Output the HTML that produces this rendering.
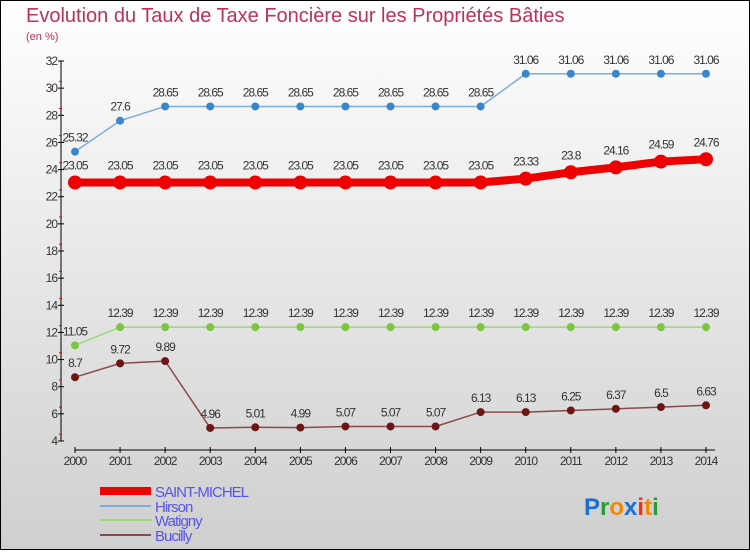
<!DOCTYPE html>
<html><head><meta charset="utf-8"><style>
body{margin:0;width:750px;height:550px;overflow:hidden;font-family:"Liberation Sans",sans-serif}
</style></head><body>
<svg width="750" height="550" xmlns="http://www.w3.org/2000/svg">
<defs><linearGradient id="bg" x1="0" y1="0" x2="0" y2="1"><stop offset="0" stop-color="#ffffff"/><stop offset="1" stop-color="#cfcfcf"/></linearGradient></defs>
<rect x="0.5" y="0.5" width="749" height="549" fill="url(#bg)" stroke="#000"/>
<text x="26" y="22" font-size="20" fill="#c0305a">Evolution du Taux de Taxe Foncière sur les Propriétés Bâties</text>
<text x="26" y="40" font-size="11" fill="#c0305a">(en %)</text>
<g id="axes"></g>
<g id="series"></g>
<g id="legend"></g>
<text x="584" y="515" font-size="24" font-weight="bold"><tspan fill="#1a6fd0">P</tspan><tspan fill="#2a9a3a">r</tspan><tspan fill="#f28a00">o</tspan><tspan fill="#1a6fd0">x</tspan><tspan fill="#e8341c">i</tspan><tspan fill="#f28a00">t</tspan><tspan fill="#2a9a3a">i</tspan></text>
</svg>
<script>
const years=[2000,2001,2002,2003,2004,2005,2006,2007,2008,2009,2010,2011,2012,2013,2014];
const yTicks=[4,6,8,10,12,14,16,18,20,22,24,26,28,30,32];
const saintMichel=[23.05,23.05,23.05,23.05,23.05,23.05,23.05,23.05,23.05,23.05,23.33,23.8,24.16,24.59,24.76];
const hirson=[25.32,27.6,28.65,28.65,28.65,28.65,28.65,28.65,28.65,28.65,31.06,31.06,31.06,31.06,31.06];
const watigny=[11.05,12.39,12.39,12.39,12.39,12.39,12.39,12.39,12.39,12.39,12.39,12.39,12.39,12.39,12.39];
const bucilly=[8.7,9.72,9.89,4.96,5.01,4.99,5.07,5.07,5.07,6.13,6.13,6.25,6.37,6.5,6.63];
const NS="http://www.w3.org/2000/svg";
const xs=i=>75+i*(706-75)/(years.length-1);
const ys=v=>441-(v-4)*(380/28);
function mk(tag,attrs,parent,txt){const e=document.createElementNS(NS,tag);for(const k in attrs)e.setAttribute(k,attrs[k]);if(txt!==undefined)e.textContent=txt;parent.appendChild(e);return e;}
const ax=document.getElementById('axes');
let e=mk('line',{x1:61,y1:61,x2:61,y2:441,stroke:'#000'},ax);


e=mk('line',{x1:75,y1:450,x2:715,y2:450,stroke:'#000'},ax);


yTicks.forEach((t,i)=>{const y=ys(t);mk('line',{x1:58,y1:y,x2:64,y2:y,stroke:'#000'},ax);
if(i<yTicks.length-1)mk('line',{x1:59,y1:y-6.8,x2:62,y2:y-6.8,stroke:'#e00'},ax);
e=mk('text',{x:57,y:y+4,'font-size':12,'text-anchor':'end',fill:'#333','letter-spacing':'-1'},ax,t);

});
years.forEach((yr,i)=>{const x=xs(i);mk('line',{x1:x,y1:447,x2:x,y2:453,stroke:'#000'},ax);
e=mk('text',{x:x,y:465,'font-size':12,'text-anchor':'middle',fill:'#333','letter-spacing':'-1'},ax,yr);

});
const sg=document.getElementById('series');
function series(name,data,line,dot,w,r){const g=mk('g',{},sg);


mk('polyline',{points:data.map((v,i)=>xs(i)+','+ys(v)).join(' '),fill:'none',stroke:line,'stroke-width':w,'stroke-linejoin':'round'},g);
data.forEach((v,i)=>{const c=mk('circle',{cx:xs(i),cy:ys(v),r:r,fill:dot},g);


const t=mk('text',{x:xs(i),y:ys(v)-(r+6),'font-size':12,'text-anchor':'middle',fill:'#333','letter-spacing':'-1'},g,String(v));

});}
series('bucilly',bucilly,'#8a4a4a','#6b1515',1.5,4);
series('watigny',watigny,'#99d977','#7cc540',1.5,4);
series('hirson',hirson,'#7aaed8','#3a86c8',1.5,4);
series('saint-michel',saintMichel,'#ee0000','#ee0000',8,7);
const lg=document.getElementById('legend');
[['SAINT-MICHEL','#ee0000',8,493],['Hirson','#7aaed8',2,508],['Watigny','#99d977',2,522],['Bucilly','#8a4a4a',2,537]].forEach(([n,c,w,y])=>{
const g=mk('g',{},lg);


mk('line',{x1:100,y1:y-2,x2:151,y2:y-2,stroke:c,'stroke-width':w},g);
mk('text',{x:155,y:y+4,'font-size':15,fill:'#5555ee','letter-spacing':'-1'},g,n);});
</script>
</body></html>
